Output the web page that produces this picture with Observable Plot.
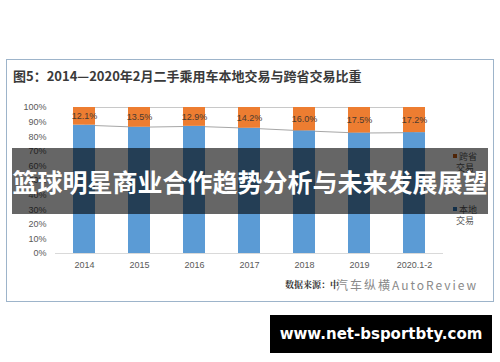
<!DOCTYPE html>
<html>
<head>
<meta charset="utf-8">
<script src="https://cdn.jsdelivr.net/npm/d3@7"></script>
<script src="https://cdn.jsdelivr.net/npm/@observablehq/plot@0.6"></script>
<style>
  html, body { margin: 0; padding: 0; background: #fff; }
  #wrap { position: relative; width: 500px; height: 362px; overflow: hidden; font-family: "Liberation Sans", "Noto Sans CJK SC", sans-serif; }
  #frame { position: absolute; left: 6px; top: 59px; width: 486px; height: 241px; border: 1px solid #9db4ca; box-sizing: content-box; }
  #title { position: absolute; left: 13px; top: 66px; font: bold 13px "Noto Sans CJK SC", sans-serif; color: #3a3a3a; white-space: nowrap; }
  #chart { position: absolute; left: 0; top: 0; }
  .leg { position: absolute; font: 9px "Noto Sans CJK SC", sans-serif; color: #595959; line-height: 11px; text-align: center; }
  .leg i { display: inline-block; width: 4px; height: 4px; margin-right: 2px; vertical-align: 2px; }
  #src { position: absolute; left: 285px; top: 278px; font: bold 9px "Noto Serif CJK SC", "Noto Sans CJK SC", serif; color: #333; white-space: nowrap; }
  #wm { position: absolute; left: 336px; top: 276px; font: 12px "Noto Sans CJK SC", sans-serif; color: #8a8a8a; white-space: nowrap; letter-spacing: 2px; }
  #banner { position: absolute; left: 12px; top: 148px; width: 476px; height: 66px; background: rgba(0,0,0,0.6); color: #fff; font: bold 25px "Noto Sans CJK SC", sans-serif; line-height: 66px; text-align: center; white-space: nowrap; }
  #url { position: absolute; left: 270px; top: 315px; width: 222px; height: 38px; background: #000; color: #fff; font: bold 15px "DejaVu Sans", sans-serif; line-height: 38px; text-align: center; }
</style>
</head>
<body>
<div id="wrap">
  <div id="frame"></div>
  <div id="chart"></div>
  <div id="title">图5：2014—2020年2月二手乘用车本地交易与跨省交易比重</div>
  <div class="leg" style="left:453px; top:151px;"><i style="background:#c55a11"></i>跨省<br>交易</div>
  <div class="leg" style="left:453px; top:204px;"><i style="background:#2e75b6"></i>本地<br>交易</div>
  <div id="src">数据来源：中</div>
  <div id="wm">汽车纵横AutoReview</div>
  <div id="banner">篮球明星商业合作趋势分析与未来发展展望</div>
  <div id="url">www.net-bsportbty.com</div>
</div>
<script>
// Data
const years = ["2014", "2015", "2016", "2017", "2018", "2019", "2020.1-2"];
const kuaSheng = [12.1, 13.5, 12.9, 14.2, 16.0, 17.5, 17.2];   // 跨省交易 %
const benDi = [87.9, 86.5, 87.1, 85.8, 84.0, 82.5, 82.8];      // 本地交易 %
const yTicks = [0, 10, 20, 30, 40, 50, 60, 70, 80, 90, 100];

const rows = years.map((y, i) => ({year: y, local: benDi[i], cross: kuaSheng[i]}));
const pairs = rows.slice(0, -1).map((r, i) => ({a: r, b: rows[i + 1]}));

const blue = "#5b9bd5", orange = "#ed7d31";

const chart = Plot.plot({
  width: 500,
  height: 362,
  marginLeft: 55,
  marginRight: 57,
  marginTop: 107,
  marginBottom: 109,
  style: {fontFamily: "'Liberation Sans', Arial, sans-serif", fontSize: "9px", color: "#595959", background: "transparent"},
  x: {domain: years, paddingInner: 0.6, paddingOuter: 0.3, label: null},
  y: {domain: [0, 100], label: null},
  marks: [
    // series lines
    Plot.link(pairs, {x1: d => d.a.year, x2: d => d.b.year, y1: d => d.a.local, y2: d => d.b.local, stroke: "#a6a6a6", strokeWidth: 1}),
    Plot.link(pairs, {x1: d => d.a.year, x2: d => d.b.year, y1: 100, y2: 100, stroke: "#c8c8c8", strokeWidth: 1}),
    Plot.barY(rows, {x: "year", y1: 0, y2: "local", fill: blue}),
    Plot.barY(rows, {x: "year", y1: "local", y2: 100, fill: orange}),
    Plot.ruleY([0], {stroke: "#d9d9d9", strokeWidth: 1.2}),
    Plot.text(rows, {x: "year", y: d => (d.local + 100) / 2, text: d => d.cross.toFixed(1) + "%", fill: "#4a3a30", fontSize: 9}),
    Plot.axisY({ticks: yTicks, tickFormat: d => d + "%", tickSize: 0, tickPadding: 9, fontSize: 9}),
    Plot.axisX({tickSize: 0, tickPadding: 8, fontSize: 9})
  ]
});
document.getElementById("chart").appendChild(chart);
</script>
</body>
</html>
